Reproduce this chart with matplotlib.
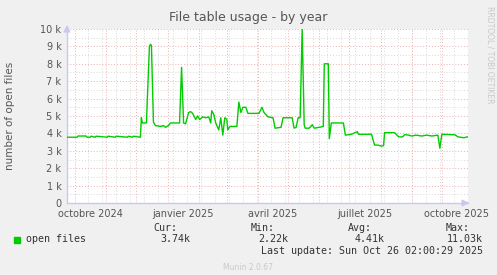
import datetime as dt
import matplotlib
matplotlib.use("Agg")
import matplotlib.pyplot as plt
from matplotlib.ticker import FuncFormatter, MultipleLocator

# data: days since start date, open files (thousands)
start = dt.date(2024, 9, 23)
end = dt.date(2025, 10, 27)
days = [0, 10, 11, 19, 20, 23, 24, 28, 29, 40, 41, 48, 49, 60, 61, 65, 66, 73,
        74, 75, 79, 82, 83, 84, 86, 88, 93, 96, 98, 101, 103, 112, 114, 116, 118,
        121, 123, 125, 128, 130, 132, 135, 138, 141, 143, 144, 146, 148, 151, 153,
        155, 157, 159, 160, 162, 169, 171, 173, 175, 178, 180, 191, 194, 196, 200,
        205, 207, 213, 215, 224, 226, 228, 230, 232, 234, 236, 237, 241, 244, 246,
        251, 255, 256, 260, 261, 263, 275, 277, 283, 289, 290, 303, 306, 309, 313,
        315, 316, 326, 330, 334, 336, 340, 343, 347, 353, 358, 363, 369, 371, 373,
        386, 389, 395, 398, 400]
values = [3.78, 3.78, 3.85, 3.85, 3.78, 3.78, 3.84, 3.78, 3.84, 3.78, 3.84, 3.78,
          3.84, 3.78, 3.84, 3.78, 3.84, 3.78,
          4.9, 4.6, 4.6, 9.0, 9.12, 9.05, 4.65, 4.45, 4.4, 4.45, 4.35, 4.45, 4.6,
          4.6, 7.8, 4.6, 4.55,
          5.2, 5.25, 5.15, 4.8, 5.0, 4.8, 4.95, 4.9, 4.95, 4.6, 5.3, 5.1, 4.6, 4.2,
          4.9, 3.9, 4.9, 4.8, 4.2, 4.4, 4.4, 5.8, 5.2, 5.5, 5.5, 5.15, 5.15, 5.5,
          5.2, 4.95, 4.9, 4.3, 4.35, 4.9, 4.9, 4.3, 4.35, 4.9, 4.9, 10.0, 4.5, 4.3,
          4.3, 4.5, 4.3, 4.35, 4.4, 8.0, 8.0, 3.7, 4.6, 4.6, 3.9, 3.95, 4.1, 3.95,
          3.95, 3.33, 3.33, 3.27, 3.3, 4.04, 4.04, 3.8, 3.8, 3.93, 3.9, 3.85, 3.9,
          3.85, 3.9, 3.85, 3.9, 3.15, 3.95, 3.92, 3.8, 3.75, 3.8, 3.78]

month_labels = ["octobre 2024", "janvier 2025", "avril 2025", "juillet 2025", "octobre 2025"]
label_dates = [dt.date(2024, 10, 16), dt.date(2025, 1, 16), dt.date(2025, 4, 16),
               dt.date(2025, 7, 16), dt.date(2025, 10, 16)]

legend_name = "open files"
cur, vmin, avg, vmax = "3.74k", "2.22k", "4.41k", "11.03k"
last_update = "Last update: Sun Oct 26 02:00:29 2025"

W, H = 497, 275
fig = plt.figure(figsize=(W / 100, H / 100), dpi=100, facecolor="#f0f0f0")
ax = fig.add_axes([67 / W, 1 - 203 / H, 401 / W, 174 / H], facecolor="white")

x = [start + dt.timedelta(days=d) for d in days]
y = [v * 1000 for v in values]
ax.plot(x, y, color="#00cc00", lw=1.0, zorder=3)

ax.set_xlim(start, end)
ax.set_ylim(0, 10000)

# grid: red dotted major, grey dotted minor
red = "#eab0b0"
grey = "#d8d8d8"
dots = (0, (1, 2))
for k in range(1, 11):
    ax.axhline(k * 1000, color=red, lw=0.7, ls=dots, zorder=1)
for k in range(10):
    ax.axhline(k * 1000 + 500, color=grey, lw=0.7, ls=dots, zorder=0)
m = dt.date(2024, 10, 1)
while m < end:
    ax.axvline(m, color=red, lw=0.7, ls=dots, zorder=1)
    m = dt.date(m.year + (m.month == 12), m.month % 12 + 1, 1)
w = dt.date(2024, 10, 14)
while w < end:
    ax.axvline(w, color=grey, lw=0.7, ls=dots, zorder=0)
    w += dt.timedelta(days=14)

ax.yaxis.set_major_locator(MultipleLocator(1000))
ax.yaxis.set_major_formatter(FuncFormatter(lambda v, p: "0" if v == 0 else "%d k" % (v / 1000)))
ax.set_xticks(label_dates)
ax.set_xticklabels(month_labels)
ax.tick_params(axis="both", length=0, labelsize=7, colors="#555555", pad=4)

for s in ["top", "right"]:
    ax.spines[s].set_visible(False)
for s in ["left", "bottom"]:
    ax.spines[s].set_color("#c8c8f0")
    ax.spines[s].set_linewidth(1)
ax.annotate("", xy=(0, 1.04), xytext=(0, 0.98), xycoords="axes fraction",
            arrowprops=dict(arrowstyle="-|>", color="#c8c8f0", lw=1), annotation_clip=False)
ax.annotate("", xy=(1.01, 0), xytext=(0.99, 0), xycoords="axes fraction",
            arrowprops=dict(arrowstyle="-|>", color="#c8c8f0", lw=1), annotation_clip=False)

fig.text(248 / W, 1 - 17 / H, "File table usage - by year", ha="center", va="center",
         fontsize=9, color="#555555")
fig.text(10 / W, 1 - 116 / H, "number of open files", ha="center", va="center",
         rotation=90, fontsize=7.5, color="#555555")
fig.text(490 / W, 1 - 55 / H, "RRDTOOL / TOBI OETIKER", ha="center", va="center",
         rotation=270, fontsize=5.5, color="#c8c8c8")

mono = dict(family="DejaVu Sans Mono", fontsize=7.2, color="#333333", va="center")
fig.text(177 / W, 1 - 228 / H, "Cur:", ha="right", **mono)
fig.text(275 / W, 1 - 228 / H, "Min:", ha="right", **mono)
fig.text(372 / W, 1 - 228 / H, "Avg:", ha="right", **mono)
fig.text(470 / W, 1 - 228 / H, "Max:", ha="right", **mono)
fig.patches.append(plt.Rectangle((14 / W, 1 - 243 / H), 6 / W, 6 / H, color="#00cc00",
                                 transform=fig.transFigure, figure=fig))
fig.text(26 / W, 1 - 239 / H, legend_name, ha="left", **mono)
fig.text(190 / W, 1 - 239 / H, cur, ha="right", **mono)
fig.text(288 / W, 1 - 239 / H, vmin, ha="right", **mono)
fig.text(385 / W, 1 - 239 / H, avg, ha="right", **mono)
fig.text(483 / W, 1 - 239 / H, vmax, ha="right", **mono)
fig.text(483 / W, 1 - 251 / H, last_update, ha="right", **mono)
fig.text(248 / W, 1 - 267 / H, "Munin 2.0.67", ha="center", va="center",
         fontsize=5.5, color="#c8c8c8")

fig.savefig("out.png", dpi=100, facecolor=fig.get_facecolor())
